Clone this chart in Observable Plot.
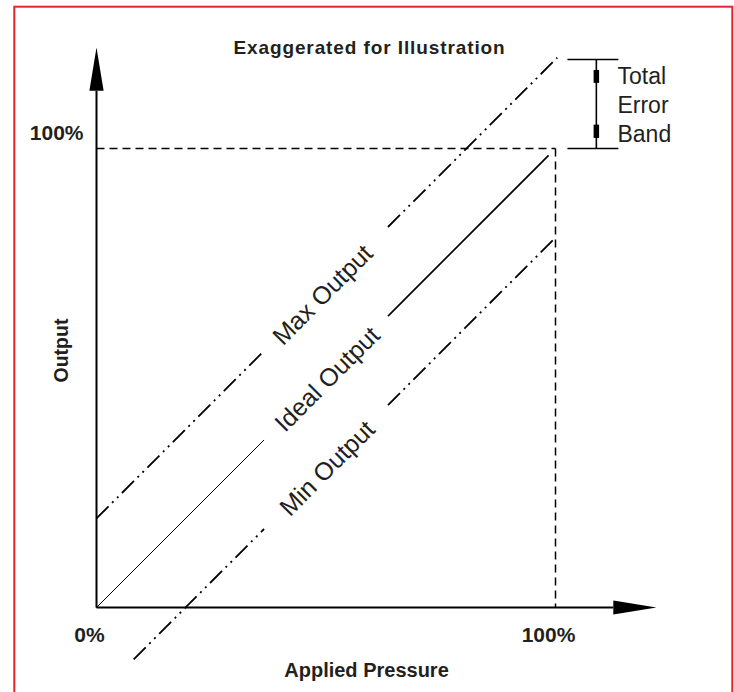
<!DOCTYPE html>
<html><head><meta charset="utf-8">
<script src="https://cdn.jsdelivr.net/npm/d3@7"></script>
<script src="https://cdn.jsdelivr.net/npm/@observablehq/plot@0.6"></script>
<style>html,body{margin:0;padding:0;overflow:hidden;background:#fff}</style>
</head><body><div id="chart"></div>
<script>
// ---- data ----
const title = "Exaggerated for Illustration";
const xLabel = "Applied Pressure";
const yLabel = "Output";
const xTicks = [0, 100];
const yTicks = [100];
const seriesNames = ["Max Output", "Ideal Output", "Min Output"];
const seriesOffsets = [19.4, 0, -19.4];      // output minus pressure (% of full scale)
const seriesStart = [0, 0, 8.1];             // pressure where each line starts
const seriesEnd = [100.4, 98.5, 100];        // pressure where each line ends
const labelGap = [36.5, 63.5];               // pressure range left blank for the labels
const labelAt = [49, 50, 50];
const fullScale = 100;
const errorBand = [100, 119.4];              // output values bounding the total error band
const bandLabel = ["Total", "Error", "Band"];
const axisEnd = 122;                          // arrow tips, % of full scale

// ---- derived tables ----
const segs = [];
seriesNames.forEach((name, i) => {
  const off = seriesOffsets[i];
  [[seriesStart[i], labelGap[0], "lo"], [labelGap[1], seriesEnd[i], "hi"]].forEach(([a, b, part]) => {
    segs.push({name, part, x1: a, y1: a + off, x2: b, y2: b + off});
  });
});
const labels = seriesNames.map((name, i) => ({name, x: labelAt[i], y: labelAt[i] + seriesOffsets[i]}));
const headLen = 9.4, headHalf = 1.55;
const yHead = [{x: -headHalf, y: axisEnd - headLen}, {x: 0, y: axisEnd}, {x: headHalf, y: axisEnd - headLen}];
const xHead = [{x: axisEnd - headLen, y: -headHalf}, {x: axisEnd, y: 0}, {x: axisEnd - headLen, y: headHalf}];
const axesLines = [
  {x1: 0, y1: 0, x2: 0, y2: axisEnd - headLen},
  {x1: 0, y1: 0, x2: axisEnd - headLen, y2: 0}
];
const guides = [
  {x1: 0, y1: fullScale, x2: fullScale, y2: fullScale},
  {x1: fullScale, y1: fullScale, x2: fullScale, y2: 0}
];
const bandX = 108.9, capL = 102.6, capR = 113.7;
const caps = errorBand.map(v => ({x1: capL, x2: capR, y1: v, y2: v}));
const bandSpan = [{x1: bandX, x2: bandX, y1: errorBand[0], y2: errorBand[1]}];
const bandTicks = [
  {x1: bandX, x2: bandX, y1: 114.3, y2: 117.1},
  {x1: bandX, x2: bandX, y1: 102.3, y2: 105.2}
];
const dashDotDot = "17,5,2,5,2,5";
const ink = "#231f20";

const plot = Plot.plot({
  width: 734,
  height: 692,
  marginLeft: 96,
  marginRight: 179,
  marginTop: 148,
  marginBottom: 85,
  x: {domain: [0, fullScale]},
  y: {domain: [0, fullScale]},
  style: {fontFamily: "'Liberation Sans', Arial, Helvetica, sans-serif", color: ink, background: "white"},
  marks: [
    Plot.link(guides, {x1: "x1", y1: "y1", x2: "x2", y2: "y2", stroke: "#000", strokeWidth: 1.5, strokeDasharray: "8,5"}),
    Plot.link(axesLines, {x1: "x1", y1: "y1", x2: "x2", y2: "y2", stroke: "#000", strokeWidth: 2}),
    Plot.line(yHead, {x: "x", y: "y", fill: "#000", stroke: "none"}),
    Plot.line(xHead, {x: "x", y: "y", fill: "#000", stroke: "none"}),
    Plot.link(segs.filter(d => d.name !== "Ideal Output"), {x1: "x1", y1: "y1", x2: "x2", y2: "y2", stroke: "#000", strokeWidth: 1.8, strokeDasharray: dashDotDot}),
    Plot.link(segs.filter(d => d.name === "Ideal Output" && d.part === "lo"), {x1: "x1", y1: "y1", x2: "x2", y2: "y2", stroke: "#000", strokeWidth: 1}),
    Plot.link(segs.filter(d => d.name === "Ideal Output" && d.part === "hi"), {x1: "x1", y1: "y1", x2: "x2", y2: "y2", stroke: "#000", strokeWidth: 1.7}),
    Plot.text(labels, {x: "x", y: "y", text: "name", rotate: -45, fontSize: 25, textAnchor: "middle", lineAnchor: "middle", dx: 1.5, dy: 1.5, fill: ink}),
    Plot.link(caps, {x1: "x1", y1: "y1", x2: "x2", y2: "y2", stroke: "#000", strokeWidth: 1.6}),
    Plot.link(bandSpan, {x1: "x1", y1: "y1", x2: "x2", y2: "y2", stroke: "#000", strokeWidth: 1.6}),
    Plot.link(bandTicks, {x1: "x1", y1: "y1", x2: "x2", y2: "y2", stroke: "#000", strokeWidth: 5.5}),
    Plot.text([bandLabel.join("\n")], {x: () => 113.5, y: () => 101.5, textAnchor: "start", lineAnchor: "bottom", lineHeight: 1.26, fontSize: 23, fill: ink}),
    Plot.axisX(xTicks, {tickSize: 0, tickPadding: 20, tickFormat: d => `${d}%`, fontSize: 21, fontWeight: "bold", dx: -7, label: null}),
    Plot.axisY(yTicks, {tickSize: 0, tickPadding: 13, tickFormat: d => `${d}%`, fontSize: 21, fontWeight: "bold", dy: -15, label: null}),
    Plot.text([title], {frameAnchor: "top", dx: 43.5, dy: -95, lineAnchor: "bottom", fontWeight: "bold", fontSize: 19, fill: ink}),
    Plot.text([xLabel], {frameAnchor: "bottom", dx: 40.5, dy: 69, lineAnchor: "bottom", fontWeight: "bold", fontSize: 20, fill: ink}),
    Plot.text([yLabel], {frameAnchor: "left", rotate: -90, dx: -29, dy: 4.5, lineAnchor: "bottom", fontWeight: "bold", fontSize: 19.5, fill: ink})
  ]
});

d3.select(plot).selectAll("text").filter(function() { return this.textContent === title; }).style("letter-spacing", "0.9px");
d3.select(plot).append("rect")
  .attr("x", 14.3).attr("y", 6.7).attr("width", 718).attr("height", 740)
  .attr("fill", "none").attr("stroke", "#e5252f").attr("stroke-width", 2);

document.getElementById("chart").appendChild(plot);
</script>
</body></html>
